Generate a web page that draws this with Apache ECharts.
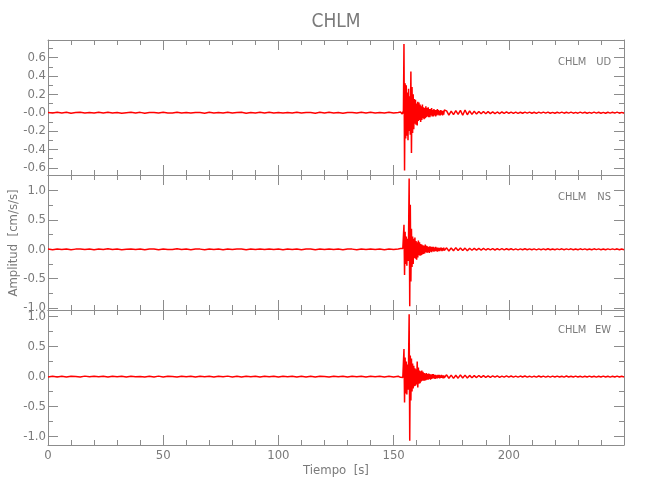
<!DOCTYPE html>
<html><head><meta charset="utf-8">
<script src="https://cdn.jsdelivr.net/npm/echarts@6/dist/echarts.min.js"></script>
<style>html,body{margin:0;padding:0;background:#fff}#c{width:650px;height:500px}</style>
</head><body><div id="c"></div>
<script>
// ---------- data ----------
const stationName = 'CHLM';
const components = ['UD', 'NS', 'EW'];
const xLabel = 'Tiempo  [s]';
const yLabel = 'Amplitud  [cm/s/s]';
const xMax = 250;

const quietStart = 0, quietStep = 2;     // 0 .. 152 s
const eventStart = 153, eventStep = 0.25; // 153 .. 172 s
const codaStart = 173, codaStep = 1;      // 173 .. 250 s

const udQuiet = [0.003,-0.004,0.005,-0.002,0.004,-0.005,0.002,0.004,-0.003,0.002,
-0.004,0.004,-0.002,0.005,-0.003,0.003,-0.005,0.001,0.004,-0.003,
0.004,-0.006,0.002,0.003,-0.004,0.005,-0.002,-0.003,0.006,-0.003,
0.002,-0.004,0.003,0.002,-0.005,0.004,-0.002,0.003,-0.004,0.005,
-0.003,0.002,0.004,-0.005,0.003,-0.002,0.004,-0.003,0.005,-0.002,
0.003,-0.004,0.003,-0.003,0.005,-0.004,0.002,0.003,-0.005,0.004,
-0.003,0.004,-0.002,0.003,-0.005,0.003,0.002,-0.004,0.005,-0.003,
0.004,-0.002,0.003,-0.004,0.005,-0.003,0.003];
const udEvent = [0.008,-0.012,0.010,-0.015,0.012,-0.010,
0.75,-0.63,0.32,-0.28,0.30,-0.25,0.22,-0.30,0.26,-0.20,0.18,-0.24,0.45,-0.44,
0.28,-0.22,0.20,-0.18,0.15,-0.12,0.14,-0.13,0.10,-0.14,0.12,-0.09,0.11,-0.08,
0.09,-0.10,0.07,-0.08,0.09,-0.06,0.06,-0.07,0.05,-0.06,0.07,-0.05,0.05,-0.04,
0.06,-0.05,0.04,-0.05,0.04,-0.03,0.05,-0.04,0.03,-0.04,0.04,-0.03,0.03,-0.04,
0.03,-0.03,0.04,-0.02,0.03,-0.03,0.02,-0.03,0.03,-0.02,0.02,-0.03,0.02,-0.02,0.03];
const udCoda = [0.02,-0.025,0.018,-0.02,0.022,-0.018,0.025,-0.028,0.03,-0.022,
0.02,-0.018,0.016,-0.015,0.014,-0.012,0.013,-0.011,0.012,-0.01,
0.009,-0.01,0.008,-0.009,0.008,-0.007,0.009,-0.006,0.007,-0.008,
0.006,-0.007,0.005,-0.006,0.007,-0.005,0.006,-0.006,0.005,-0.007,
0.006,-0.005,0.006,-0.005,0.007,-0.006,0.004,-0.006,0.005,-0.004,
0.006,-0.005,0.005,-0.004,0.006,-0.005,0.004,-0.005,0.006,-0.004,
0.005,-0.006,0.004,-0.005,0.006,-0.004,0.005,-0.005,0.004,-0.006,
0.005,-0.004,0.005,-0.004,0.006,-0.005,0.004,-0.005];

const nsQuiet = [0.005,-0.006,0.007,-0.004,0.006,-0.008,0.003,0.006,-0.005,0.004,
-0.006,0.006,-0.003,0.008,-0.005,0.004,-0.007,0.002,0.006,-0.004,
0.006,-0.008,0.004,0.005,-0.006,0.007,-0.003,-0.005,0.008,-0.004,
0.004,-0.006,0.005,0.003,-0.007,0.006,-0.004,0.005,-0.006,0.007,
-0.004,0.003,0.006,-0.007,0.005,-0.004,0.006,-0.005,0.007,-0.003,
0.004,-0.006,0.005,-0.005,0.007,-0.006,0.004,0.005,-0.007,0.006,
-0.004,0.006,-0.004,0.005,-0.007,0.004,0.003,-0.006,0.007,-0.005,
0.006,-0.004,0.005,-0.006,0.007,-0.005,0.004];
const nsEvent = [0.012,-0.015,0.010,-0.02,0.015,-0.012,
0.42,-0.44,0.30,-0.25,0.22,-0.28,0.18,-0.20,0.25,1.21,-0.97,0.76,-0.55,0.35,
-0.30,0.22,-0.25,0.18,-0.15,0.20,-0.16,0.14,-0.18,0.12,-0.14,0.15,-0.10,0.12,
-0.11,0.09,-0.10,0.08,-0.09,0.07,-0.08,0.06,-0.07,0.08,-0.05,0.06,-0.06,0.05,
-0.05,0.04,-0.06,0.05,-0.04,0.04,-0.05,0.04,-0.03,0.04,-0.04,0.03,-0.03,0.04,
-0.03,0.03,-0.04,0.03,-0.03,0.02,-0.03,0.03,-0.02,0.03,-0.03,0.02,-0.02,0.03,-0.02];
const nsCoda = [0.025,-0.03,0.022,-0.025,0.028,-0.02,0.024,-0.022,0.02,-0.025,
0.018,-0.016,0.017,-0.015,0.014,-0.013,0.015,-0.012,0.013,-0.011,
0.011,-0.012,0.01,-0.009,0.011,-0.01,0.009,-0.008,0.01,-0.009,
0.008,-0.009,0.007,-0.008,0.009,-0.007,0.008,-0.008,0.007,-0.009,
0.008,-0.007,0.008,-0.007,0.009,-0.008,0.006,-0.008,0.007,-0.006,
0.008,-0.007,0.007,-0.006,0.008,-0.007,0.006,-0.007,0.008,-0.006,
0.007,-0.008,0.006,-0.007,0.008,-0.006,0.007,-0.007,0.006,-0.008,
0.007,-0.006,0.007,-0.006,0.008,-0.007,0.006,-0.007];

const ewQuiet = [-0.005,0.007,-0.006,0.004,-0.007,0.005,0.003,-0.006,0.008,-0.004,
0.006,-0.003,0.007,-0.008,0.005,-0.002,0.006,-0.005,0.007,-0.004,
0.003,-0.007,0.006,-0.005,0.008,-0.006,0.004,0.002,-0.007,0.006,
-0.004,0.005,-0.007,0.007,-0.003,0.005,-0.006,0.006,-0.004,0.008,
-0.005,0.004,-0.007,0.006,-0.003,0.006,-0.007,0.005,-0.004,0.007,
-0.006,0.005,-0.003,0.007,-0.006,0.004,-0.005,0.006,-0.008,0.005,
0.003,-0.006,0.007,-0.004,0.006,-0.007,0.005,-0.003,0.006,-0.007,
0.005,-0.004,0.007,-0.006,0.004,-0.005,0.006];
const ewEvent = [-0.012,0.015,-0.010,0.018,-0.014,0.012,
0.46,-0.43,0.32,-0.28,0.25,-0.30,0.20,-0.22,0.28,1.04,-1.07,0.35,-0.40,0.30,
-0.25,0.22,-0.20,0.18,-0.16,0.14,-0.15,0.12,-0.13,0.25,-0.18,0.15,-0.12,0.10,
-0.11,0.09,-0.08,0.10,-0.07,0.08,-0.07,0.06,-0.07,0.05,-0.06,0.06,-0.05,0.04,
-0.05,0.05,-0.04,0.04,-0.05,0.03,-0.04,0.04,-0.03,0.04,-0.03,0.03,-0.04,0.03,
-0.03,0.02,-0.03,0.03,-0.02,0.03,-0.03,0.02,-0.02,0.03,-0.02,0.02,-0.03,0.02,-0.02];
const ewCoda = [0.03,-0.028,0.025,-0.03,0.022,-0.026,0.028,-0.022,0.025,-0.024,
0.02,-0.018,0.017,-0.016,0.018,-0.014,0.015,-0.013,0.012,-0.013,
0.011,-0.01,0.011,-0.012,0.009,-0.01,0.011,-0.008,0.01,-0.009,
0.008,-0.009,0.009,-0.007,0.009,-0.008,0.007,-0.009,0.007,-0.008,
0.009,-0.007,0.008,-0.008,0.007,-0.009,0.008,-0.006,0.008,-0.007,
0.007,-0.008,0.009,-0.006,0.007,-0.007,0.008,-0.007,0.006,-0.008,
0.007,-0.007,0.008,-0.006,0.007,-0.008,0.007,-0.006,0.008,-0.006,
0.007,-0.008,0.006,-0.007,0.008,-0.007,0.007,-0.006];

// axis extents and tick values
const udRange = [-0.679, 0.793];
const nsRange = [-1.036, 1.268];
const ewRange = [-1.14, 1.11];
const udMajor = [-0.6, -0.4, -0.2, 0, 0.2, 0.4, 0.6];
const udMinor = [-0.5, -0.3, -0.1, 0.1, 0.3, 0.5, 0.7];
const nsMajor = [-1, -0.5, 0, 0.5, 1];
const nsMinor = [-0.75, -0.25, 0.25, 0.75];
const ewMajor = [-1, -0.5, 0, 0.5, 1];
const ewMinor = [-0.75, -0.25, 0.25, 0.75];
const xMajor = [0, 50, 100, 150, 200];
const xMinor = [10, 20, 30, 40, 60, 70, 80, 90, 110, 120, 130, 140, 160, 170, 180, 190, 210, 220, 230, 240];

// ---------- build ----------
function trace(q, e, c) {
  const out = [];
  q.forEach((v, i) => out.push([quietStart + i * quietStep, v]));
  e.forEach((v, i) => out.push([eventStart + i * eventStep, v]));
  c.forEach((v, i) => out.push([codaStart + i * codaStep, v]));
  return out;
}
const traces = [trace(udQuiet, udEvent, udCoda), trace(nsQuiet, nsEvent, nsCoda), trace(ewQuiet, ewEvent, ewCoda)];
const ranges = [udRange, nsRange, ewRange];
const majors = [udMajor, nsMajor, ewMajor];
const minors = [udMinor, nsMinor, ewMinor];

const FONT = "'Liberation Sans Narrow','DejaVu Sans Condensed','Liberation Sans',sans-serif";
const AX = '#8c8c8c';
const TX = '#7a7a7a';
const gridTops = [40, 175, 310];
const gridH = 135;

const grid = [], xAxis = [], yAxis = [], series = [];
for (let g = 0; g < 3; g++) {
  grid.push({left: 48, right: 26, top: gridTops[g], height: gridH});
  const xBase = {type: 'value', gridIndex: g, min: 0, max: xMax, splitLine: {show: false}};
  const specs = [
    ['bottom', true, xMajor, 10, g === 2],
    ['bottom', false, xMinor, 5, false],
    ['top', true, xMajor, 10, false],
    ['top', false, xMinor, 5, false]
  ];
  specs.forEach(s => xAxis.push(Object.assign({}, xBase, {
    position: s[0],
    axisLine: {show: s[1], onZero: false, lineStyle: {color: AX, width: 1}},
    axisTick: {show: true, inside: true, length: s[3], customValues: s[2], lineStyle: {color: AX}},
    axisLabel: {show: s[4], customValues: xMajor, margin: 4, color: TX, fontSize: 13, fontFamily: FONT}
  })));
  const yBase = {type: 'value', gridIndex: g, min: ranges[g][0], max: ranges[g][1], splitLine: {show: false}};
  const yspecs = [
    ['left', true, majors[g], 10, true],
    ['left', false, minors[g], 5, false],
    ['right', true, majors[g], 10, false],
    ['right', false, minors[g], 5, false]
  ];
  yspecs.forEach(s => yAxis.push(Object.assign({}, yBase, {
    position: s[0],
    axisLine: {show: s[1], onZero: false, lineStyle: {color: AX, width: 1}},
    axisTick: {show: true, inside: true, length: s[3], customValues: s[2], lineStyle: {color: AX}},
    axisLabel: {show: s[4], customValues: majors[g], margin: 2, color: TX, fontSize: 13, fontFamily: FONT,
      formatter: v => (Math.abs(v) < 1e-9 ? (g === 0 ? '-0.0' : '0.0') : v.toFixed(1))}
  })));
  series.push({
    type: 'line', xAxisIndex: g * 4, yAxisIndex: g * 4, data: traces[g],
    showSymbol: false, symbol: 'none', lineStyle: {color: '#ff0000', width: 1.5}, itemStyle: {color: '#ff0000'},
    silent: true, z: 3
  });
}

const graphic = [
  {type: 'text', x: 336, y: 22, style: {text: stationName, fill: TX, font: '19px ' + FONT, align: 'center', verticalAlign: 'middle'}},
  {type: 'text', x: 336, y: 471, style: {text: xLabel, fill: TX, font: '13px ' + FONT, align: 'center', verticalAlign: 'middle'}},
  {type: 'text', x: 14, y: 243, rotation: Math.PI / 2, style: {text: yLabel, fill: TX, font: '13px ' + FONT, align: 'center', verticalAlign: 'middle'}}
];
const labelY = [62, 197, 330];
components.forEach((c, i) => {
  graphic.push({type: 'text', x: 558, y: labelY[i], style: {text: stationName, fill: TX, font: '11px ' + FONT, align: 'left', verticalAlign: 'middle'}});
  graphic.push({type: 'text', x: 611, y: labelY[i], style: {text: c, fill: TX, font: '11px ' + FONT, align: 'right', verticalAlign: 'middle'}});
});

const chart = echarts.init(document.getElementById('c'), null, {renderer: 'canvas'});
chart.setOption({animation: false, backgroundColor: '#ffffff', grid, xAxis, yAxis, series, graphic});
</script>
</body></html>
